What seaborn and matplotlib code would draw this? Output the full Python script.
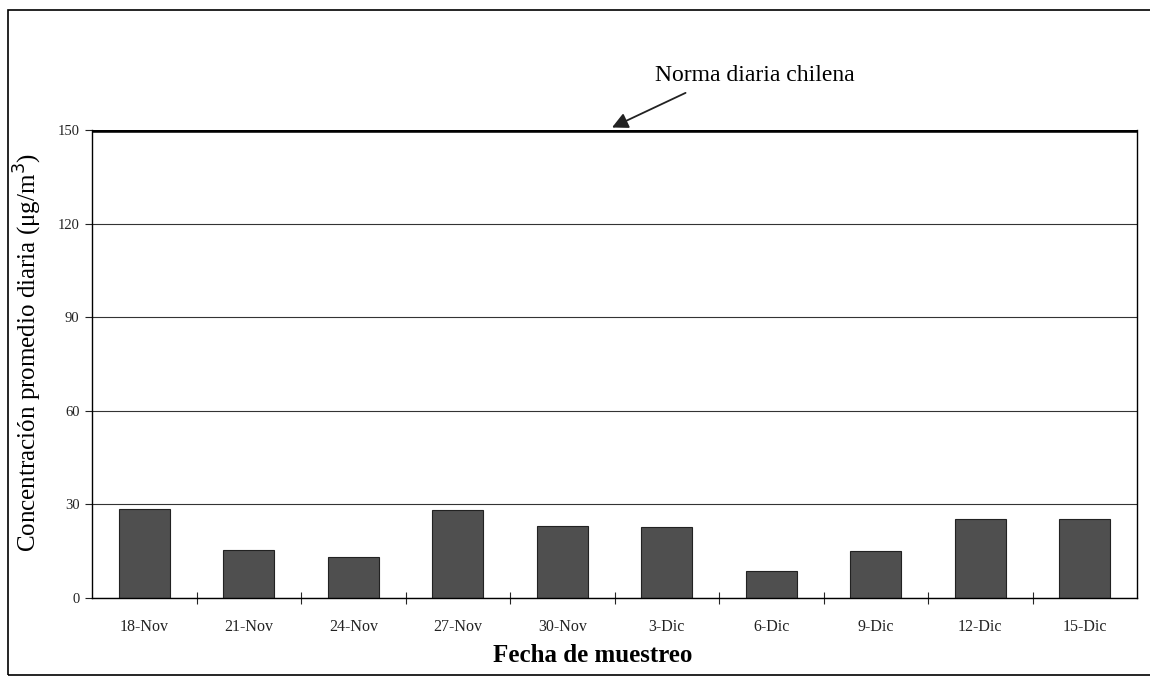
import matplotlib
matplotlib.use("Agg")
import matplotlib.pyplot as plt
import seaborn as sns
import pandas as pd
from matplotlib.patches import Rectangle

fechas = ["18-Nov", "21-Nov", "24-Nov", "27-Nov", "30-Nov",
          "3-Dic", "6-Dic", "9-Dic", "12-Dic", "15-Dic"]
concentracion = [28.5, 15.5, 13.2, 28.3, 23.2, 22.8, 8.8, 15.0, 25.2, 25.2]
norma = 150
y_ticks = [0, 30, 60, 90, 120, 150]

sns.set_theme(style="white")
plt.rcParams['font.family'] = ['Liberation Serif', 'DejaVu Serif']
plt.rcParams['text.color'] = 'black'
plt.rcParams['axes.labelcolor'] = 'black'

df = pd.DataFrame({"fecha": fechas, "conc": concentracion})

fig = plt.figure(figsize=(11.5, 6.81), dpi=100)
# outer frame
fig.patches.append(Rectangle((8/1150, 6/681), 1.2, (671-6)/681, transform=fig.transFigure,
                             fill=False, edgecolor="black", linewidth=1.2))
ax = fig.add_axes([92/1150, 83/681, (1137-92)/1150, (598-130)/681])

sns.barplot(data=df, x="fecha", y="conc", ax=ax, color="#4f4f4f",
            width=0.49, edgecolor="#222222", linewidth=0.8, saturation=1)

ax.set_ylim(0, 150)
ax.set_xlim(-0.5, len(fechas) - 0.5)
ax.set_yticks(y_ticks)
ax.yaxis.grid(True, color="#333333", linewidth=0.8)
ax.set_axisbelow(True)
ax.axhline(norma, color="black", linewidth=4, zorder=5)

for s in ["left", "bottom", "right"]:
    ax.spines[s].set_visible(True)
    ax.spines[s].set_color("black")
    ax.spines[s].set_linewidth(1.0)
ax.spines["top"].set_visible(False)

ax.tick_params(axis="y", which="major", direction="out", length=5, width=0.8,
               left=True, labelsize=10.5, colors="#222222", pad=4)
ax.tick_params(axis="x", which="major", length=0, labelsize=11.5, pad=15, colors="#222222")
ax.set_xticks([i + 0.5 for i in range(len(fechas) - 1)], minor=True)
ax.tick_params(axis="x", which="minor", direction="inout", length=8, width=0.8, bottom=True)

ax.set_xlabel("Fecha de muestreo", fontsize=18, fontweight="bold")
ax.xaxis.set_label_coords((593 - 92) / (1137 - 92), -(655 - 598) / (598 - 130))
ax.xaxis.label.set_va("center")
ax.set_ylabel("Concentración promedio diaria (μg/m$^3$)", fontsize=18)
ax.yaxis.set_label_coords(-(92 - 28) / (1137 - 92), (598 - 352) / (598 - 130))
ax.yaxis.label.set_va("center")

ax.annotate("", xy=(4.476, 150.8), xytext=(5.18, 161.9),
            xycoords="data", textcoords="data", annotation_clip=False,
            arrowprops=dict(arrowstyle="-|>", color="#222222", lw=1.3,
                            mutation_scale=24, shrinkA=0, shrinkB=0))
ax.text(4.89, 167.6, "Norma diaria chilena", fontsize=17, ha="left", va="center",
        clip_on=False)

fig.savefig("out.png", dpi=100)
